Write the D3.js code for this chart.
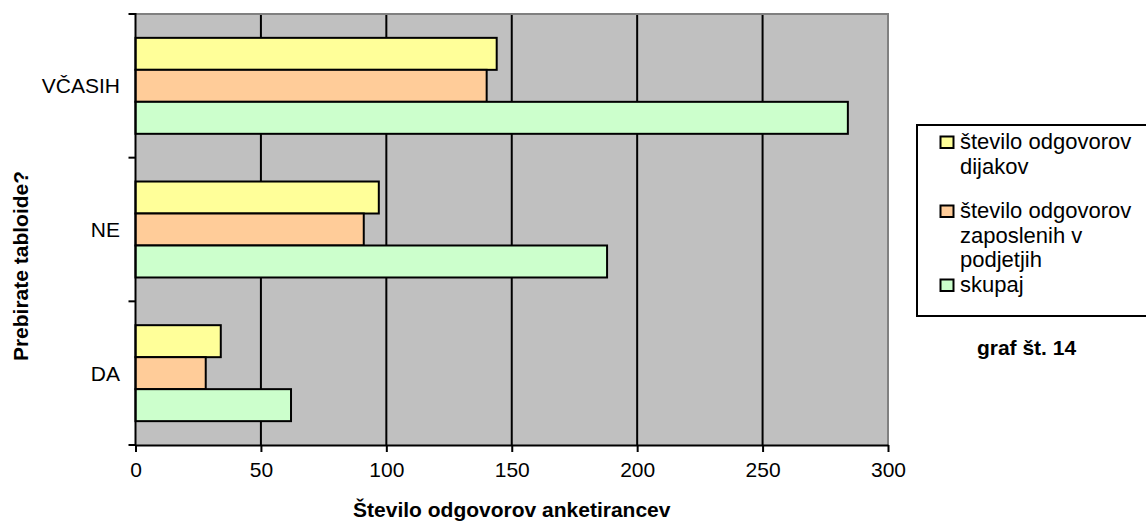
<!DOCTYPE html>
<html>
<head>
<meta charset="utf-8">
<script src="https://cdn.jsdelivr.net/npm/d3@7"></script>
<style>
  html, body { margin: 0; padding: 0; background: #ffffff; }
  svg { display: block; font-family: "Liberation Sans", Arial, sans-serif; }
</style>
</head>
<body>
<svg id="chart" width="1146" height="524"></svg>
<script>
const categories = ["VČASIH", "NE", "DA"];
const seriesNames = ["število odgovorov dijakov", "število odgovorov zaposlenih v podjetjih", "skupaj"];
const dijakov = [144, 97, 34];
const zaposlenih = [140, 91, 28];
const skupaj = [284, 188, 62];
const xTicks = [0, 50, 100, 150, 200, 250, 300];
const legendLines = [["število odgovorov", "dijakov"], ["število odgovorov", "zaposlenih v", "podjetjih"], ["skupaj"]];
const colors = ["#FFFF99", "#FFCC99", "#CCFFCC"];

const seriesValues = [dijakov, zaposlenih, skupaj];

const svg = d3.select("#chart");
const L = 135.5, R = 888, T = 14, B = 445;

const x = d3.scaleLinear().domain([0, 300]).range([L, R]);
const y = d3.scaleBand().domain(categories).range([T, B]).paddingInner(0.332).paddingOuter(0.166);
const ySub = d3.scaleBand().domain(d3.range(seriesNames.length)).range([0, y.bandwidth()]).padding(0);
const yEdge = d3.scaleBand().domain(categories).range([T, B]).padding(0);

// plot background
svg.append("rect").attr("x", L).attr("y", T).attr("width", R - L).attr("height", B - T)
  .attr("fill", "#C0C0C0");

// gridlines
svg.append("g").selectAll("line").data(xTicks.filter(d => d > 0 && d < 300)).join("line")
  .attr("x1", d => x(d)).attr("x2", d => x(d)).attr("y1", T).attr("y2", B)
  .attr("stroke", "#000").attr("stroke-width", 2);

// top & right gray border
svg.append("line").attr("x1", L).attr("x2", R + 1).attr("y1", T).attr("y2", T)
  .attr("stroke", "#808080").attr("stroke-width", 2);
svg.append("line").attr("x1", R).attr("x2", R).attr("y1", T).attr("y2", B)
  .attr("stroke", "#808080").attr("stroke-width", 2);

// bars
const groups = svg.append("g").selectAll("g").data(categories).join("g")
  .attr("transform", c => `translate(0,${y(c)})`);
groups.selectAll("rect").data((c, ci) => seriesValues.map((vals, si) => ({si, v: vals[ci]})))
  .join("rect")
  .attr("x", x(0))
  .attr("y", d => ySub(d.si))
  .attr("width", d => x(d.v) - x(0))
  .attr("height", ySub.bandwidth())
  .attr("fill", d => colors[d.si])
  .attr("stroke", "#000").attr("stroke-width", 2);

// x axis
const xAxis = svg.append("g").attr("transform", `translate(0,${B})`)
  .call(d3.axisBottom(x).tickValues(xTicks).tickSize(7).tickSizeOuter(0).tickPadding(10));
xAxis.select(".domain").attr("stroke", "#000").attr("stroke-width", 2);
xAxis.selectAll(".tick line").attr("stroke", "#000").attr("stroke-width", 2);
xAxis.selectAll(".tick text").attr("font-size", 21).attr("font-family", "Liberation Sans, Arial, sans-serif").attr("fill", "#000");

// y axis line and ticks at category boundaries
svg.append("line").attr("x1", L).attr("x2", L).attr("y1", T - 1).attr("y2", B + 1)
  .attr("stroke", "#000").attr("stroke-width", 2);
const edges = categories.map(c => yEdge(c)).concat([B]);
svg.append("g").selectAll("line").data(edges).join("line")
  .attr("x1", L - 7).attr("x2", L).attr("y1", d => d).attr("y2", d => d)
  .attr("stroke", "#000").attr("stroke-width", 2);

// category labels
svg.append("g").selectAll("text").data(categories).join("text")
  .attr("x", 120).attr("y", c => y(c) + y.bandwidth() / 2 + 7.5)
  .attr("text-anchor", "end").attr("font-size", 21).attr("fill", "#000")
  .text(c => c);

// axis titles
svg.append("text").attr("x", (L + R) / 2).attr("y", 517).attr("text-anchor", "middle")
  .attr("font-size", 21).attr("font-weight", "bold").text("Število odgovorov anketirancev");
svg.append("text").attr("transform", "translate(28,266) rotate(-90)").attr("text-anchor", "middle")
  .attr("font-size", 21).attr("font-weight", "bold").text("Prebirate tabloide?");

// legend
svg.append("rect").attr("x", 917).attr("y", 125).attr("width", 240).attr("height", 191)
  .attr("fill", "#fff").attr("stroke", "#000").attr("stroke-width", 2);
const legendBase = [149, 218, 292];
const lineGap = 24.5;
const lg = svg.append("g").selectAll("g").data(seriesNames).join("g");
lg.append("rect").attr("x", 940.5).attr("y", (d, i) => legendBase[i] - 12.5)
  .attr("width", 13).attr("height", 11.5)
  .attr("fill", (d, i) => colors[i]).attr("stroke", "#000").attr("stroke-width", 2);
lg.each(function(d, i) {
  legendLines[i].forEach((line, k) => {
    d3.select(this).append("text").attr("x", 960).attr("y", legendBase[i] + k * lineGap)
      .attr("font-size", 22).attr("fill", "#000").text(line);
  });
});

svg.append("text").attr("x", 1026.5).attr("y", 355).attr("text-anchor", "middle")
  .attr("font-size", 21).attr("font-weight", "bold").text("graf št. 14");
</script>
</body>
</html>
